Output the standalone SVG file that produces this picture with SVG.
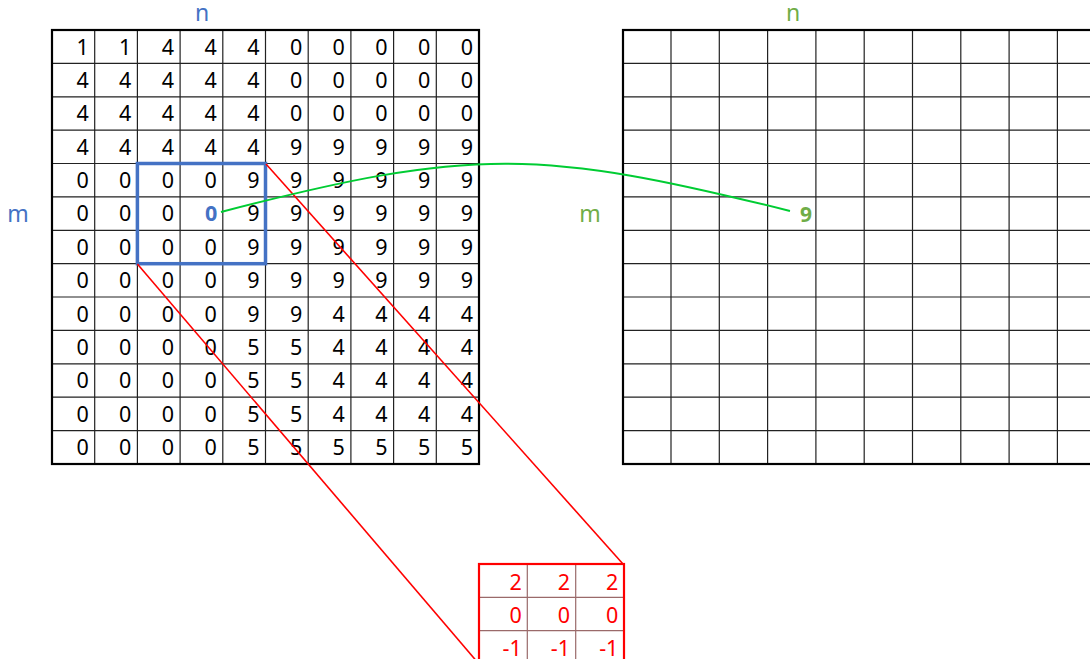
<svg xmlns="http://www.w3.org/2000/svg" width="1090" height="659" viewBox="0 0 1090 659">
<style>
.num{font-family:"Noto Sans",sans-serif;font-size:21.5px;fill:#000;text-anchor:end}
.knum{font-family:"Noto Sans",sans-serif;font-size:21.5px;fill:#FF0000;text-anchor:end}
.lblB{font-family:"Noto Sans",sans-serif;font-size:23px;fill:#4472C4;text-anchor:middle}
.lblG{font-family:"Noto Sans",sans-serif;font-size:23px;fill:#70AD47;text-anchor:middle}
.inner{stroke:#222;stroke-width:1.2;fill:none}
.outer{stroke:#000;stroke-width:2.2;fill:none}
.kinner{stroke:#9a6a6a;stroke-width:1.2;fill:none}
</style>
<rect width="1090" height="659" fill="#fff"/>

<g id="input-grid">
<path class="inner" d="M94.7 30V464M137.4 30V464M180.1 30V464M222.8 30V464M265.5 30V464M308.2 30V464M350.9 30V464M393.6 30V464M436.3 30V464M52 63.4H479M52 96.8H479M52 130.1H479M52 163.5H479M52 196.9H479M52 230.3H479M52 263.7H479M52 297H479M52 330.4H479M52 363.8H479M52 397.2H479M52 430.6H479"/>
<rect class="outer" x="52" y="30" width="427" height="434"/>
<g class="num">
<text x="88.7" y="54.5">1</text><text x="131.4" y="54.5">1</text><text x="174.1" y="54.5">4</text><text x="216.8" y="54.5">4</text><text x="259.5" y="54.5">4</text><text x="302.2" y="54.5">0</text><text x="344.9" y="54.5">0</text><text x="387.6" y="54.5">0</text><text x="430.3" y="54.5">0</text><text x="473" y="54.5">0</text>
<text x="88.7" y="87.9">4</text><text x="131.4" y="87.9">4</text><text x="174.1" y="87.9">4</text><text x="216.8" y="87.9">4</text><text x="259.5" y="87.9">4</text><text x="302.2" y="87.9">0</text><text x="344.9" y="87.9">0</text><text x="387.6" y="87.9">0</text><text x="430.3" y="87.9">0</text><text x="473" y="87.9">0</text>
<text x="88.7" y="121.3">4</text><text x="131.4" y="121.3">4</text><text x="174.1" y="121.3">4</text><text x="216.8" y="121.3">4</text><text x="259.5" y="121.3">4</text><text x="302.2" y="121.3">0</text><text x="344.9" y="121.3">0</text><text x="387.6" y="121.3">0</text><text x="430.3" y="121.3">0</text><text x="473" y="121.3">0</text>
<text x="88.7" y="154.6">4</text><text x="131.4" y="154.6">4</text><text x="174.1" y="154.6">4</text><text x="216.8" y="154.6">4</text><text x="259.5" y="154.6">4</text><text x="302.2" y="154.6">9</text><text x="344.9" y="154.6">9</text><text x="387.6" y="154.6">9</text><text x="430.3" y="154.6">9</text><text x="473" y="154.6">9</text>
<text x="88.7" y="188">0</text><text x="131.4" y="188">0</text><text x="174.1" y="188">0</text><text x="216.8" y="188">0</text><text x="259.5" y="188">9</text><text x="302.2" y="188">9</text><text x="344.9" y="188">9</text><text x="387.6" y="188">9</text><text x="430.3" y="188">9</text><text x="473" y="188">9</text>
<text x="88.7" y="221.4">0</text><text x="131.4" y="221.4">0</text><text x="174.1" y="221.4">0</text><text x="259.5" y="221.4">9</text><text x="302.2" y="221.4">9</text><text x="344.9" y="221.4">9</text><text x="387.6" y="221.4">9</text><text x="430.3" y="221.4">9</text><text x="473" y="221.4">9</text>
<text x="88.7" y="254.8">0</text><text x="131.4" y="254.8">0</text><text x="174.1" y="254.8">0</text><text x="216.8" y="254.8">0</text><text x="259.5" y="254.8">9</text><text x="302.2" y="254.8">9</text><text x="344.9" y="254.8">9</text><text x="387.6" y="254.8">9</text><text x="430.3" y="254.8">9</text><text x="473" y="254.8">9</text>
<text x="88.7" y="288.2">0</text><text x="131.4" y="288.2">0</text><text x="174.1" y="288.2">0</text><text x="216.8" y="288.2">0</text><text x="259.5" y="288.2">9</text><text x="302.2" y="288.2">9</text><text x="344.9" y="288.2">9</text><text x="387.6" y="288.2">9</text><text x="430.3" y="288.2">9</text><text x="473" y="288.2">9</text>
<text x="88.7" y="321.5">0</text><text x="131.4" y="321.5">0</text><text x="174.1" y="321.5">0</text><text x="216.8" y="321.5">0</text><text x="259.5" y="321.5">9</text><text x="302.2" y="321.5">9</text><text x="344.9" y="321.5">4</text><text x="387.6" y="321.5">4</text><text x="430.3" y="321.5">4</text><text x="473" y="321.5">4</text>
<text x="88.7" y="354.9">0</text><text x="131.4" y="354.9">0</text><text x="174.1" y="354.9">0</text><text x="216.8" y="354.9">0</text><text x="259.5" y="354.9">5</text><text x="302.2" y="354.9">5</text><text x="344.9" y="354.9">4</text><text x="387.6" y="354.9">4</text><text x="430.3" y="354.9">4</text><text x="473" y="354.9">4</text>
<text x="88.7" y="388.3">0</text><text x="131.4" y="388.3">0</text><text x="174.1" y="388.3">0</text><text x="216.8" y="388.3">0</text><text x="259.5" y="388.3">5</text><text x="302.2" y="388.3">5</text><text x="344.9" y="388.3">4</text><text x="387.6" y="388.3">4</text><text x="430.3" y="388.3">4</text><text x="473" y="388.3">4</text>
<text x="88.7" y="421.7">0</text><text x="131.4" y="421.7">0</text><text x="174.1" y="421.7">0</text><text x="216.8" y="421.7">0</text><text x="259.5" y="421.7">5</text><text x="302.2" y="421.7">5</text><text x="344.9" y="421.7">4</text><text x="387.6" y="421.7">4</text><text x="430.3" y="421.7">4</text><text x="473" y="421.7">4</text>
<text x="88.7" y="455.1">0</text><text x="131.4" y="455.1">0</text><text x="174.1" y="455.1">0</text><text x="216.8" y="455.1">0</text><text x="259.5" y="455.1">5</text><text x="302.2" y="455.1">5</text><text x="344.9" y="455.1">5</text><text x="387.6" y="455.1">5</text><text x="430.3" y="455.1">5</text><text x="473" y="455.1">5</text>
</g>
<text x="217.3" y="221.4" font-family="Noto Sans, sans-serif" font-size="21.5" font-weight="bold" fill="#4472C4" text-anchor="end">0</text>
<rect x="137.4" y="163.5" width="128.1" height="100.2" fill="none" stroke="#4472C4" stroke-width="3.5"/>
<text class="lblB" x="202" y="21">n</text>
<text class="lblB" x="18" y="222">m</text>
</g>

<g id="output-grid">
<path class="inner" d="M671 30V464M719.3 30V464M767.6 30V464M815.9 30V464M864.2 30V464M912.5 30V464M960.8 30V464M1009.1 30V464M1057.4 30V464M623 63.4H1106M623 96.8H1106M623 130.1H1106M623 163.5H1106M623 196.9H1106M623 230.3H1106M623 263.7H1106M623 297H1106M623 330.4H1106M623 363.8H1106M623 397.2H1106M623 430.6H1106"/>
<rect class="outer" x="623" y="30" width="483" height="434"/>
<text x="806" y="222" font-family="Noto Sans, sans-serif" font-size="21" font-weight="bold" fill="#70AD47" text-anchor="middle">9</text>
<text class="lblG" x="793" y="21">n</text>
<text class="lblG" x="590" y="222">m</text>
</g>

<g id="kernel">
<path class="kinner" d="M527.3 564V665M575.7 564V665M479 597.4H624M479 630.7H624"/>
<rect x="479" y="564" width="145" height="101" fill="none" stroke="#FF0000" stroke-width="2.2"/>
<g class="knum">
<text x="521.7" y="589.5">2</text><text x="570" y="589.5">2</text><text x="618.4" y="589.5">2</text>
<text x="521.7" y="622.9">0</text><text x="570" y="622.9">0</text><text x="618.4" y="622.9">0</text>
<text x="521.7" y="656.3">-1</text><text x="570" y="656.3">-1</text><text x="618.4" y="656.3">-1</text>
</g>
</g>

<g id="connectors" fill="none">
<path d="M266 164L623 564" stroke="#FF0000" stroke-width="1.6"/>
<path d="M137.4 264L479 664" stroke="#FF0000" stroke-width="1.6"/>
<path d="M221 212C471 147 540 148.5 790 211" stroke="#00CC33" stroke-width="2"/>
</g>
</svg>
